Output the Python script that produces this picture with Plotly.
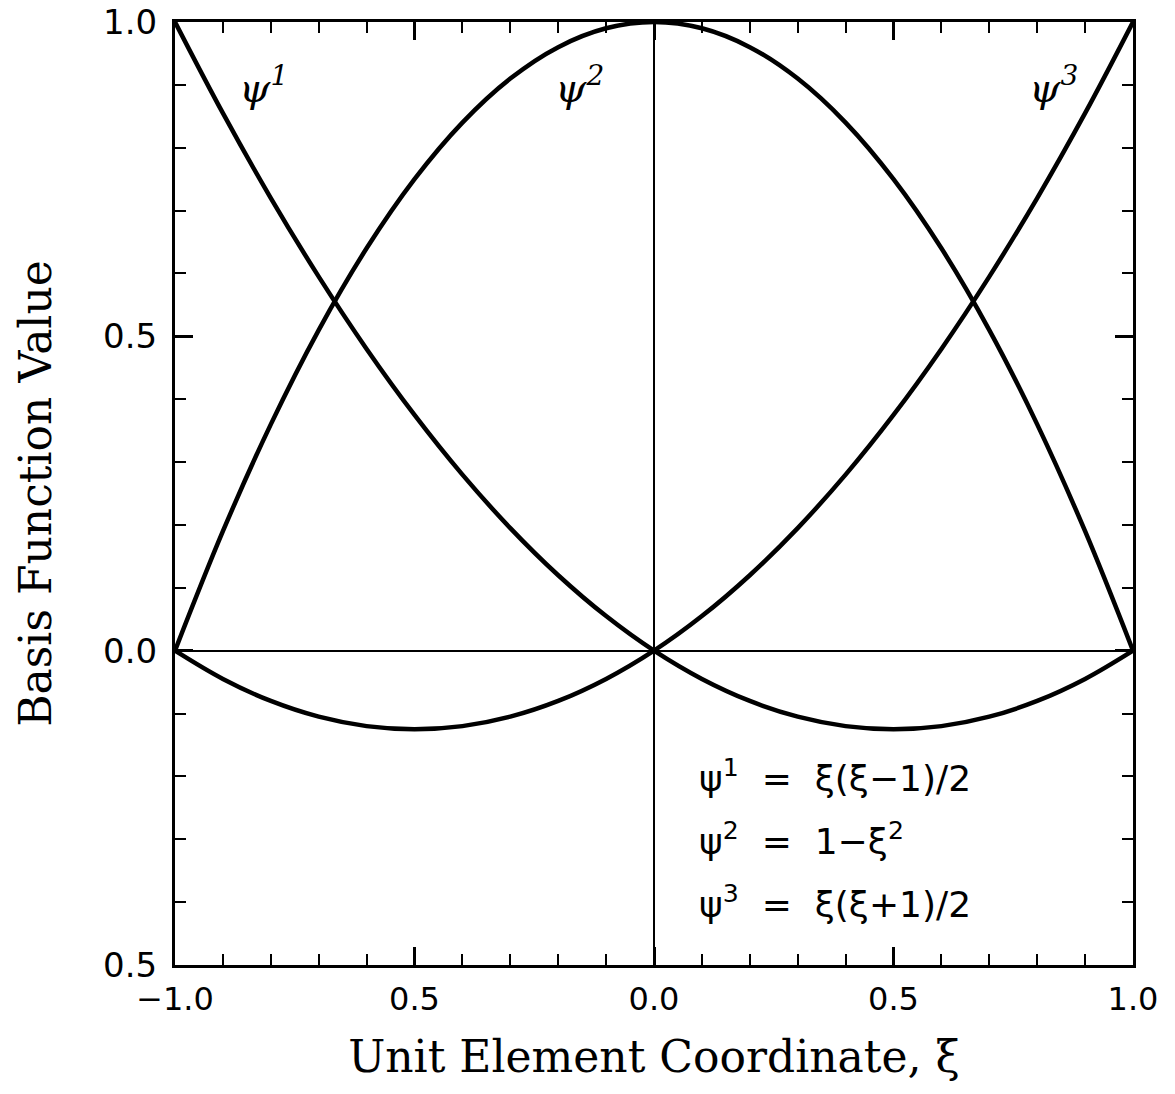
import plotly.graph_objects as go

# Sample points of the unit element coordinate
xi = [-1.0, -0.9, -0.8, -0.7, -0.6, -0.5, -0.4, -0.3, -0.2, -0.1, 0.0,
      0.1, 0.2, 0.3, 0.4, 0.5, 0.6, 0.7, 0.8, 0.9, 1.0]

# Quadratic basis function values at those points
psi1 = [1.0, 0.855, 0.72, 0.595, 0.48, 0.375, 0.28, 0.195, 0.12, 0.055, 0.0,
        -0.045, -0.08, -0.105, -0.12, -0.125, -0.12, -0.105, -0.08, -0.045, 0.0]
psi2 = [0.0, 0.19, 0.36, 0.51, 0.64, 0.75, 0.84, 0.91, 0.96, 0.99, 1.0,
        0.99, 0.96, 0.91, 0.84, 0.75, 0.64, 0.51, 0.36, 0.19, 0.0]
psi3 = [0.0, -0.045, -0.08, -0.105, -0.12, -0.125, -0.12, -0.105, -0.08, -0.045, 0.0,
        0.055, 0.12, 0.195, 0.28, 0.375, 0.48, 0.595, 0.72, 0.855, 1.0]

x_tickvals = [-1.0, -0.5, 0.0, 0.5, 1.0]
x_ticktext = ["\u22121.0", "0.5", "0.0", "0.5", "1.0"]
y_tickvals = [-0.5, 0.0, 0.5, 1.0]
y_ticktext = ["0.5", "0.0", "0.5", "1.0"]

curve_labels = ["\u03c8<sup>1</sup>", "\u03c8<sup>2</sup>", "\u03c8<sup>3</sup>"]
curve_label_x = [-0.815, -0.155, 0.835]
curve_label_y = [0.9, 0.9, 0.9]

equations = [
    "\u03c8<sup>1</sup>  =  \u03be(\u03be\u22121)/2",
    "\u03c8<sup>2</sup>  =  1\u2212\u03be<sup>2</sup>",
    "\u03c8<sup>3</sup>  =  \u03be(\u03be+1)/2",
]
eq_y = [-0.2, -0.3, -0.4]

serif = "DejaVu Serif"
sans = "DejaVu Sans"

fig = go.Figure()
for ys in (psi1, psi2, psi3):
    fig.add_trace(go.Scatter(
        x=xi, y=ys, mode="lines",
        line=dict(color="black", width=4.5, shape="spline", smoothing=1.0),
        showlegend=False, hoverinfo="skip",
    ))

for txt, lx, ly in zip(curve_labels, curve_label_x, curve_label_y):
    fig.add_annotation(x=lx, y=ly, text="<i>" + txt + "</i>", showarrow=False,
                       font=dict(family=serif, size=40, color="black"))

for txt, ly in zip(equations, eq_y):
    fig.add_annotation(x=0.09, y=ly, text=txt, showarrow=False, xanchor="left",
                       font=dict(family=sans, size=36, color="black"))

axis_common = dict(
    showline=True, linecolor="black", linewidth=3, mirror="allticks",
    ticks="inside", ticklen=18, tickwidth=2.5, tickcolor="black",
    showgrid=False, zeroline=True, zerolinecolor="black", zerolinewidth=1.5,
    minor=dict(ticks="inside", ticklen=11, tickwidth=2, tickcolor="black",
               dtick=0.1, showgrid=False),
    automargin=False,
)

fig.update_xaxes(
    range=[-1.0, 1.0], tickmode="array", tickvals=x_tickvals, ticktext=x_ticktext,
    tickfont=dict(family=sans, size=32, color="black"),
    title=dict(text="Unit Element Coordinate, \u03be", standoff=24,
               font=dict(family=serif, size=44, color="black")),
    ticklabelstandoff=4,
    **axis_common,
)
fig.update_yaxes(
    range=[-0.5, 1.0], tickmode="array", tickvals=y_tickvals, ticktext=y_ticktext,
    tickfont=dict(family=sans, size=34, color="black"),
    title=dict(text="Basis Function Value", standoff=38,
               font=dict(family=serif, size=44, color="black")),
    ticklabelstandoff=8,
    **axis_common,
)

fig.update_layout(
    width=1175, height=1094,
    margin=dict(l=175, r=42, t=22, b=129),
    paper_bgcolor="white", plot_bgcolor="white",
)

fig.write_html("out.html")
